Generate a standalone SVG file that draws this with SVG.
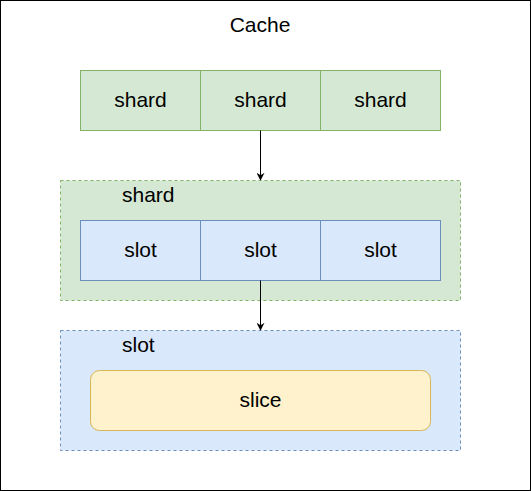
<svg xmlns="http://www.w3.org/2000/svg" width="531" height="491" viewBox="0 0 531 491">
<defs>
<marker id="arr" viewBox="0 0 10 10" refX="9" refY="5" markerWidth="8" markerHeight="8" markerUnits="userSpaceOnUse" orient="auto">
<path d="M0,0 L10,5 L0,10 L3,5 Z" fill="#000"/>
</marker>
</defs>
<style>
text{font-family:"Liberation Sans",Arial,Helvetica,sans-serif;font-size:21px;fill:#000}
.c{text-anchor:middle}
.g{fill:#d5e8d4;stroke:#82b366;stroke-width:1}
.b{fill:#dae8fc;stroke:#6c8ebf;stroke-width:1}
.y{fill:#fff2cc;stroke:#d6b656;stroke-width:1}
.d{stroke-dasharray:3 3}
.e{stroke:#000;stroke-width:1;fill:none}
</style>
<g id="cache">
<rect x="0.5" y="0.5" width="530" height="490" fill="#fff" stroke="#000"/>
<text class="c" x="260" y="31.5">Cache</text>
</g>
<g id="shards">
<rect class="g" x="80.5" y="70.5" width="120" height="60"/>
<text class="c" x="140.5" y="107">shard</text>
<rect class="g" x="200.5" y="70.5" width="120" height="60"/>
<text class="c" x="260.5" y="107">shard</text>
<rect class="g" x="320.5" y="70.5" width="120" height="60"/>
<text class="c" x="380.5" y="107">shard</text>
</g>
<g id="shard-container">
<rect class="g d" x="60.5" y="180.5" width="400" height="120"/>
<text x="122" y="201.5">shard</text>
</g>
<g id="slots">
<rect class="b" x="80.5" y="220.5" width="120" height="60"/>
<text class="c" x="140.5" y="257">slot</text>
<rect class="b" x="200.5" y="220.5" width="120" height="60"/>
<text class="c" x="260.5" y="257">slot</text>
<rect class="b" x="320.5" y="220.5" width="120" height="60"/>
<text class="c" x="380.5" y="257">slot</text>
</g>
<g id="slot-container">
<rect class="b d" x="60.5" y="330.5" width="400" height="120"/>
<text x="122" y="351.5">slot</text>
</g>
<g id="slice">
<rect class="y" x="90.5" y="370.5" width="340" height="60" rx="9" ry="9"/>
<text class="c" x="260.5" y="407">slice</text>
</g>
<g id="connectors">
<path class="e" d="M260.5,130.5 V180" marker-end="url(#arr)"/>
<path class="e" d="M260.5,280.5 V330" marker-end="url(#arr)"/>
</g>
</svg>
